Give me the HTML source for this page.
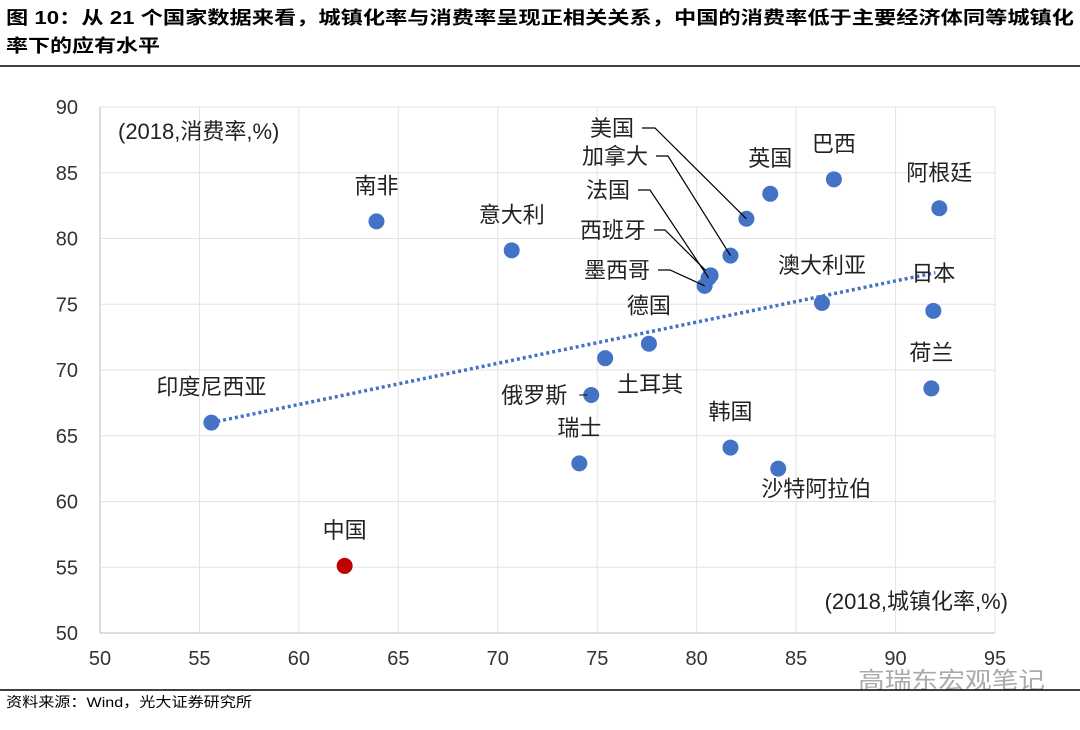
<!DOCTYPE html>
<html><head><meta charset="utf-8"><style>
body{margin:0;background:#fff;font-family:"Liberation Sans","Noto Sans CJK SC",sans-serif}
</style></head><body>
<svg width="1080" height="725" xmlns="http://www.w3.org/2000/svg" font-family="Liberation Sans, Noto Sans CJK SC, sans-serif">
<text x="6" y="24" font-size="18" font-weight="bold" textLength="1068" lengthAdjust="spacingAndGlyphs">图 10：从 21 个国家数据来看，城镇化率与消费率呈现正相关关系，中国的消费率低于主要经济体同等城镇化</text>
<text x="6" y="52" font-size="18" font-weight="bold" textLength="154" lengthAdjust="spacingAndGlyphs">率下的应有水平</text>
<line x1="0" y1="66" x2="1080" y2="66" stroke="#000" stroke-width="1.5"/>
<g id="grid"></g>
<g id="ticks"></g>
<g id="marks"></g>
<text x="118" y="139" font-size="22" fill="#222">(2018,消费率,%)</text>
<text x="1008" y="609" font-size="22" fill="#222" text-anchor="end">(2018,城镇化率,%)</text>
<text x="858" y="688" font-size="23" fill="#aaa" textLength="187" lengthAdjust="spacingAndGlyphs">高瑞东宏观笔记</text>
<line x1="0" y1="690" x2="1080" y2="690" stroke="#000" stroke-width="1.5"/>
<text x="6" y="707" font-size="14" textLength="246" lengthAdjust="spacingAndGlyphs">资料来源：Wind，光大证券研究所</text>
</svg>
<script>
const countries=["南非","意大利","印度尼西亚","中国","瑞士","俄罗斯","土耳其","德国","墨西哥","西班牙","法国","加拿大","美国","英国","巴西","澳大利亚","阿根廷","日本","荷兰","韩国","沙特阿拉伯"];
const urbanization=[63.9,70.7,55.6,62.3,74.1,74.7,75.4,77.6,80.4,80.7,80.6,81.7,82.5,83.7,86.9,86.3,92.2,91.9,91.8,81.7,84.1];
const consumption=[81.3,79.1,66.0,55.1,62.9,68.1,70.9,72.0,76.4,77.2,77.0,78.7,81.5,83.4,84.5,75.1,82.3,74.5,68.6,64.1,62.5];
const trendX=[55.6,92.0];
const trendY=[66.0,77.4];
const xTicks=[50,55,60,65,70,75,80,85,90,95];
const yTicks=[50,55,60,65,70,75,80,85,90];
const xs=v=>100+(v-50)*(895/45);
const ys=v=>633-(v-50)*(526/40);
const NS="http://www.w3.org/2000/svg";
function mk(t,a,p){const e=document.createElementNS(NS,t);for(const k in a)e.setAttribute(k,a[k]);p.appendChild(e);return e;}
const grid=document.getElementById('grid'),ticks=document.getElementById('ticks'),marks=document.getElementById('marks');
xTicks.forEach(v=>{const l=mk('line',{x1:xs(v),x2:xs(v),y1:ys(90),y2:ys(50),stroke:v==50?'#bbb':'#e3e3e3'},grid);

const t=mk('text',{x:xs(v),y:ys(50)+32,'font-size':20,'text-anchor':'middle',fill:'#333'},ticks);t.textContent=v;
});
yTicks.forEach(v=>{const l=mk('line',{x1:xs(50),x2:xs(95),y1:ys(v),y2:ys(v),stroke:v==50?'#bbb':'#e3e3e3'},grid);

const t=mk('text',{x:78,y:ys(v)+7,'font-size':20,'text-anchor':'end',fill:'#333'},ticks);t.textContent=v;
});
const tl=mk('line',{x1:xs(trendX[0]),y1:ys(trendY[0]),x2:xs(trendX[1]),y2:ys(trendY[1]),stroke:'#4472c4','stroke-width':3.5,'stroke-dasharray':'3 3'},marks);

const lab={"南非":[0,-28],"意大利":[0,-28],"印度尼西亚":[0,-28],"中国":[0,-28],"瑞士":[0,-28],"俄罗斯":[-24,8,'e'],"土耳其":[45,34],"德国":[0,-30],"澳大利亚":[0,-30],"阿根廷":[0,-28],"日本":[0,-30],"荷兰":[0,-28],"韩国":[0,-28],"沙特阿拉伯":[38,28],"英国":[0,-28],"巴西":[0,-28]};
const leader={"美国":[634,136,655],"加拿大":[648,164,668],"法国":[630,198,650],"西班牙":[646,238,665],"墨西哥":[650,278,670]};
countries.forEach((c,i)=>{const cx=xs(urbanization[i]),cy=ys(consumption[i]);
const d=mk('circle',{cx,cy,r:8,fill:c=="中国"?'#c00000':'#4472c4'},marks);

let t;
if(leader[c]){const L=leader[c];
const p=mk('polyline',{points:`${L[0]+8},${L[1]-8} ${L[2]},${L[1]-8} ${cx},${cy}`,fill:'none',stroke:'#000','stroke-width':1.2},marks);

t=mk('text',{x:L[0],y:L[1],'font-size':22,'text-anchor':'end',fill:'#222'},marks);}
else{const o=lab[c];t=mk('text',{x:cx+o[0],y:cy+o[1],'font-size':22,'text-anchor':o[2]=='e'?'end':'middle',fill:'#222'},marks);
if(c=="俄罗斯"){const p=mk('line',{x1:cx-12,y1:cy,x2:cx-4,y2:cy,stroke:'#000'},marks);}}
t.textContent=c;});
</script>
</body></html>
